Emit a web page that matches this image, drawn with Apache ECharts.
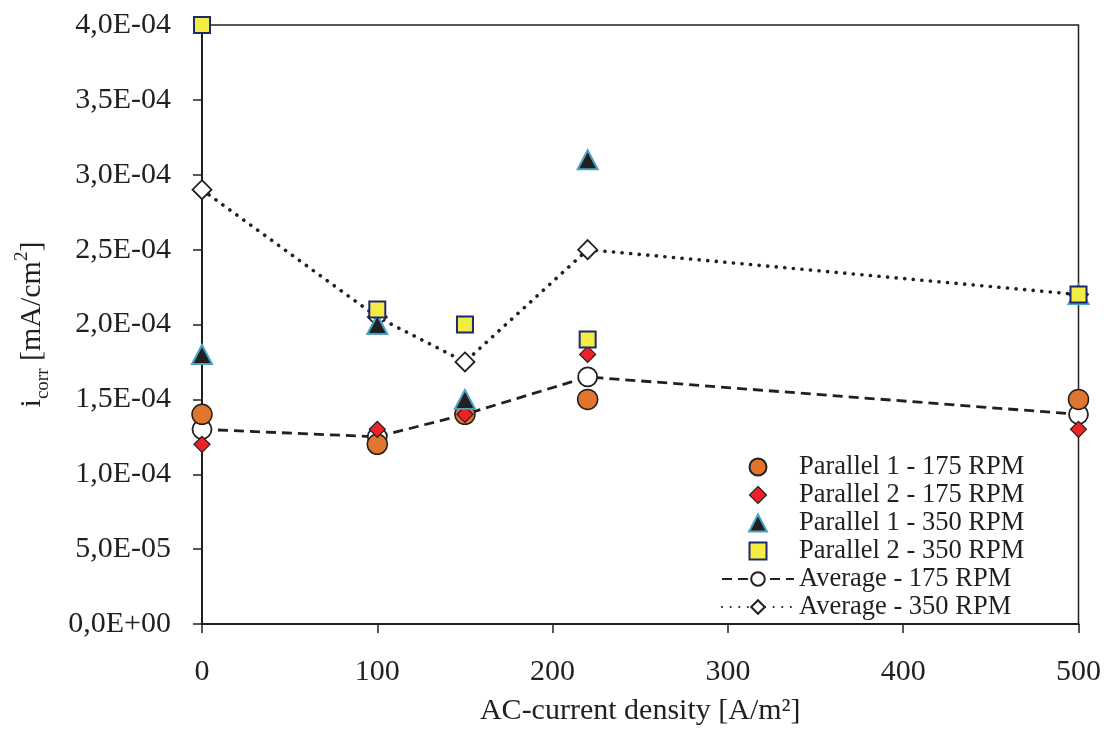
<!DOCTYPE html>
<html>
<head>
<meta charset="utf-8">
<script src="https://cdn.jsdelivr.net/npm/echarts@6/dist/echarts.min.js"></script>
<style>html,body{margin:0;padding:0;background:#fff;overflow:hidden;}#c{width:1104px;height:731px;}</style>
</head>
<body>
<div id="c"></div>
<script>
const xValues = [0, 100, 150, 220, 500];
const p1_175 = [1.4e-4, 1.2e-4, 1.4e-4, 1.5e-4, 1.5e-4];
const p2_175 = [1.2e-4, 1.3e-4, 1.4e-4, 1.8e-4, 1.3e-4];
const p1_350 = [1.8e-4, 2.0e-4, 1.5e-4, 3.1e-4, 2.2e-4];
const p2_350 = [4.0e-4, 2.1e-4, 2.0e-4, 1.9e-4, 2.2e-4];
const avg_175 = [1.3e-4, 1.25e-4, 1.4e-4, 1.65e-4, 1.4e-4];
const avg_350 = [2.9e-4, 2.05e-4, 1.75e-4, 2.5e-4, 2.2e-4];
const seriesNames = ['Parallel 1 - 175 RPM','Parallel 2 - 175 RPM','Parallel 1 - 350 RPM','Parallel 2 - 350 RPM','Average - 175 RPM','Average - 350 RPM'];

function pair(ys){ return xValues.map((x,i)=>[x, ys[i]]); }
function fmtY(v){
  if (Math.abs(v) < 1e-12) return '0,0E+00';
  const s = v.toExponential(1);
  const parts = s.split('e');
  const e = parseInt(parts[1],10);
  const ea = Math.abs(e);
  return parts[0].replace('.', ',') + 'E' + (e<0?'-':'+') + (ea<10?'0':'') + ea;
}
const FONT = 'Liberation Serif';
const ink = '#231F20';
const chart = echarts.init(document.getElementById('c'));
chart.setOption({
  backgroundColor: '#fff',
  animation: false,
  textStyle: {fontFamily: FONT},
  grid: {left: 202, right: 24, top: 25, bottom: 102, show: true, borderColor: ink, borderWidth: 1.5, containLabel: false},
  xAxis: {
    type: 'value', min: 0, max: 500, interval: 100,
    name: 'AC-current density [A/m²]', nameLocation: 'middle', nameGap: 72,
    nameTextStyle: {fontFamily: FONT, fontSize: 30, color: ink},
    axisLine: {show: true, lineStyle: {color: ink, width: 2}},
    axisTick: {show: true, inside: false, length: 9, lineStyle: {color: ink, width: 1.5}},
    axisLabel: {fontFamily: FONT, fontSize: 30, color: ink, margin: 33},
    splitLine: {show: false}
  },
  yAxis: {
    type: 'value', min: 0, max: 0.0004, interval: 0.00005,
    name: '{a|i}{s|corr}{a| [mA/cm}{p|2}{a|]}', nameLocation: 'middle', nameRotate: 90, nameGap: 153,
    nameTextStyle: {
      fontFamily: FONT, fontSize: 30, color: ink,
      rich: {
        a: {fontFamily: FONT, fontSize: 30, color: ink, lineHeight: 34, verticalAlign: 'middle'},
        s: {fontFamily: FONT, fontSize: 19, color: ink, lineHeight: 34, verticalAlign: 'bottom', padding:[0,0,-4,0]},
        p: {fontFamily: FONT, fontSize: 19, color: ink, lineHeight: 34, verticalAlign: 'top', padding:[-2,0,0,0]}
      }
    },
    axisLine: {show: true, lineStyle: {color: ink, width: 2}},
    axisTick: {show: true, inside: false, length: 9, lineStyle: {color: ink, width: 1.5}},
    axisLabel: {fontFamily: FONT, fontSize: 30, color: ink, margin: 31, formatter: fmtY},
    splitLine: {show: false}
  },
  legend: {
    orient: 'vertical', left: 716, top: 448,
    itemWidth: 72, itemHeight: 17, itemGap: 0,
    symbolKeepAspect: true,
    data: [
      {name: seriesNames[0], icon: 'circle'},
      {name: seriesNames[1], icon: 'path://M0,-1L1,0L0,1L-1,0Z', itemStyle: {borderWidth: 1.2}},
      {name: seriesNames[2], icon: 'path://M0,-1L1.05,1L-1.05,1Z'},
      {name: seriesNames[3], icon: 'path://M0,0L1,0L1,1L0,1Z'},
      {name: seriesNames[4]},
      {name: seriesNames[5]}
    ],
    textStyle: {fontFamily: FONT, fontSize: 26.5, color: ink, lineHeight: 28}
  },
  series: [
    {name: seriesNames[4], type: 'line', data: pair(avg_175), z: 2,
      symbol: 'circle', symbolSize: 19, showAllSymbol: true,
      itemStyle: {color: '#ffffff', borderColor: ink, borderWidth: 1.8},
      lineStyle: {color: ink, width: 2.8, type: [10, 6]}},
    {name: seriesNames[5], type: 'line', data: pair(avg_350), z: 2,
      symbol: 'diamond', symbolSize: 19,
      itemStyle: {color: '#ffffff', borderColor: ink, borderWidth: 1.8},
      lineStyle: {color: ink, width: 3.6, type: [0.1, 8.5], cap: 'round'}},
    {name: seriesNames[0], type: 'scatter', data: pair(p1_175), z: 3,
      symbol: 'circle', symbolSize: 20,
      itemStyle: {color: '#E0752D', borderColor: ink, borderWidth: 1.5, opacity: 1}},
    {name: seriesNames[1], type: 'scatter', data: pair(p2_175), z: 4,
      symbol: 'diamond', symbolSize: 16,
      itemStyle: {color: '#EC2227', borderColor: ink, borderWidth: 1.2, opacity: 1}},
    {name: seriesNames[2], type: 'scatter', data: pair(p1_350), z: 5,
      symbol: 'triangle', symbolSize: [20, 19],
      itemStyle: {color: ink, borderColor: '#4AA3C4', borderWidth: 2, opacity: 1}},
    {name: seriesNames[3], type: 'scatter', data: pair(p2_350), z: 6,
      symbol: 'rect', symbolSize: 16,
      itemStyle: {color: '#F2EC44', borderColor: '#1E2A6E', borderWidth: 2, opacity: 1}}
  ]
});
</script>
</body>
</html>
